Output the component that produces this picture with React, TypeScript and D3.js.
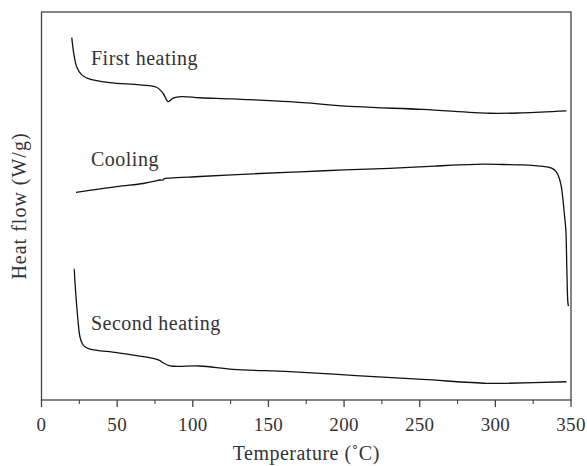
import React from "react";
import * as d3 from "d3";

const xTicks = [0, 50, 100, 150, 200, 250, 300, 350];
const xMinorTicks = [25, 75, 125, 175, 225, 275, 325];

// First heating: [temperature, heat flow (arb.)]
const firstT = [20, 21.5, 23.2, 26.6, 32, 45.2, 65, 76.1, 80.4, 83.8, 87, 92.6, 104.7, 126.5, 164, 208, 252, 296, 318, 347];
const firstV = [9.34, 8.89, 8.59, 8.38, 8.27, 8.18, 8.12, 8.06, 7.9, 7.69, 7.78, 7.82, 7.79, 7.76, 7.69, 7.56, 7.49, 7.39, 7.4, 7.45];

// Cooling (recorded from 350 down to 20)
const coolT = [348.3, 347.9, 347.3, 346.6, 345.8, 344.6, 343.6, 342.2, 340.3, 337.5, 333.7, 326, 318, 305, 291.8, 260, 230, 200, 170.7, 140, 104.7, 85, 81, 80.4, 78, 75, 67.2, 49.7, 22.8];
const coolV = [2.42, 2.53, 3.3, 4.38, 4.72, 5.2, 5.5, 5.72, 5.88, 5.97, 6.01, 6.04, 6.06, 6.07, 6.08, 6.03, 5.97, 5.93, 5.88, 5.83, 5.76, 5.72, 5.7, 5.67, 5.67, 5.64, 5.58, 5.5, 5.35];

// Second heating
const secondT = [21.3, 21.5, 22.0, 22.8, 24.0, 25.4, 27, 28.7, 32, 49.7, 65, 73.8, 78, 80.4, 84.9, 104.7, 126.7, 164, 208, 252, 294, 307, 347];
const secondV = [3.37, 3.37, 3.1, 2.66, 2.1, 1.63, 1.45, 1.37, 1.31, 1.22, 1.13, 1.07, 1.02, 0.96, 0.88, 0.876, 0.79, 0.73, 0.63, 0.53, 0.43, 0.43, 0.47];

const seriesLabels = ["First heating", "Cooling", "Second heating"];
const labelAt = [[32.7, 8.63], [32.7, 6.03], [32.7, 1.81]];

const W = 587, H = 466;
const L = 41.5, R = 571, T = 12, B = 400;

export default function App() {
  const x = d3.scaleLinear().domain([0, 350]).range([L, R]);
  const y = d3.scaleLinear().domain([0, 10]).range([B, T]);
  const line = d3
    .line<[number, number]>()
    .x((d) => x(d[0]))
    .y((d) => y(d[1]))
    .curve(d3.curveCatmullRom.alpha(0.5));
  const series = [
    firstT.map((t, i) => [t, firstV[i]] as [number, number]),
    coolT.map((t, i) => [t, coolV[i]] as [number, number]),
    secondT.map((t, i) => [t, secondV[i]] as [number, number]),
  ];
  const font = "'Liberation Serif', 'Times New Roman', serif";
  return (
    <svg
      width={W}
      height={H}
      style={{ position: "absolute", left: 0, top: 0, background: "#fff" }}
      fontFamily={font}
    >
      <rect x={L} y={T} width={R - L} height={B - T} fill="none" stroke="#444" strokeWidth={1.3} />
      {series.map((s, i) => (
        <path key={i} d={line(s) || ""} fill="none" stroke="#111" strokeWidth={1.3} strokeLinejoin="round" />
      ))}
      {seriesLabels.map((lab, i) => (
        <text key={lab} x={x(labelAt[i][0])} y={y(labelAt[i][1])} fontSize={20} letterSpacing={0.5} fill="#333">
          {lab}
        </text>
      ))}
      {xTicks.map((t) => (
        <g key={t}>
          <line x1={x(t)} x2={x(t)} y1={B} y2={B + 7} stroke="#444" strokeWidth={1.3} />
          <text x={x(t)} y={B + 31} textAnchor="middle" fontSize={19} letterSpacing={0.3} fill="#333">
            {t}
          </text>
        </g>
      ))}
      {xMinorTicks.map((t) => (
        <line key={t} x1={x(t)} x2={x(t)} y1={B} y2={B + 4} stroke="#444" strokeWidth={1.1} />
      ))}
      <text x={(L + R) / 2} y={460} textAnchor="middle" fontSize={20} letterSpacing={0.5} fill="#333">
        Temperature (˚C)
      </text>
      <text
        transform={`translate(26, ${(T + B) / 2}) rotate(-90)`}
        textAnchor="middle"
        fontSize={20}
        letterSpacing={1}
        fill="#333"
      >
        Heat flow (W/g)
      </text>
    </svg>
  );
}
